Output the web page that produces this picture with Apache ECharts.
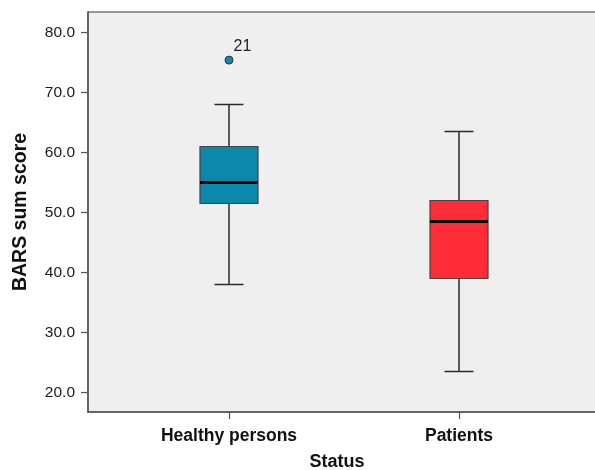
<!DOCTYPE html>
<html><head><meta charset="utf-8">
<script src="https://cdn.jsdelivr.net/npm/echarts@6/dist/echarts.min.js"></script>
<style>html,body{margin:0;padding:0;background:#fff}#c{width:595px;height:470px}</style>
</head><body><div id="c"></div>
<script>
const categories = ['Healthy persons', 'Patients'];
const whiskerLow = [38.0, 23.5];
const q1 = [51.5, 39.0];
const median = [55.0, 48.5];
const q3 = [61.0, 52.0];
const whiskerHigh = [68.0, 63.5];
const outlierCategory = [0];
const outlierValues = [75.4];
const outlierLabels = ['21'];
const yTicks = [20, 30, 40, 50, 60, 70, 80];
const xTicks = [0, 1];

const boxColors = ['#0b88ab', '#fe2c37'];
const FONT = '"Liberation Sans", Arial, sans-serif';

const boxData = categories.map((c, i) => [i, whiskerLow[i], q1[i], median[i], q3[i], whiskerHigh[i]]);
const outlierData = outlierValues.map((v, i) => [outlierCategory[i], v]);

const chart = echarts.init(document.getElementById('c'), null, {renderer: 'canvas'});
chart.setOption({
  animation: false,
  backgroundColor: '#ffffff',
  grid: {left: 88, right: -5, top: 12, bottom: 58, containLabel: false, outerBoundsMode: 'none',
    show: true, backgroundColor: '#efefef', borderColor: '#7a7a7a', borderWidth: 1.5},
  xAxis: {
    type: 'value', min: -0.613, max: 1.613,
    axisLine: {show: true, onZero: false, lineStyle: {color: '#555', width: 1.5}},
    axisTick: {show: true, customValues: xTicks, length: 7, lineStyle: {color: '#555', width: 1.2}},
    axisLabel: {customValues: xTicks, formatter: v => categories[Math.round(v)], margin: 15,
      fontFamily: FONT, fontSize: 17.5, fontWeight: 'bold', color: '#111'},
    splitLine: {show: false},
    name: 'Status', nameLocation: 'middle', nameGap: 41,
    nameTextStyle: {fontFamily: FONT, fontSize: 18, fontWeight: 'bold', color: '#111', padding: [0, 14, 0, 0]}
  },
  yAxis: {
    type: 'value', min: 16.75, max: 83.417,
    axisLine: {show: true, onZero: false, lineStyle: {color: '#555', width: 1.5}},
    axisTick: {show: true, customValues: yTicks, length: 7, lineStyle: {color: '#555', width: 1.2}},
    axisLabel: {customValues: yTicks, formatter: v => v.toFixed(1), margin: 13,
      fontFamily: FONT, fontSize: 15.5, color: '#1a1a1a'},
    splitLine: {show: false},
    name: 'BARS sum score', nameLocation: 'middle', nameGap: 57,
    nameTextStyle: {fontFamily: FONT, fontSize: 19.5, fontWeight: 'bold', color: '#111'}
  },
  series: [
    {
      type: 'custom',
      data: boxData,
      encode: {x: 0, y: [1, 2, 3, 4, 5]},
      renderItem: function (params, api) {
        const x = api.value(0);
        const pLow = api.coord([x, api.value(1)]);
        const pQ1 = api.coord([x, api.value(2)]);
        const pMed = api.coord([x, api.value(3)]);
        const pQ3 = api.coord([x, api.value(4)]);
        const pHigh = api.coord([x, api.value(5)]);
        const cx = pMed[0];
        const hw = 29, cw = 14.5;
        const ls = {stroke: '#2a2a2a', lineWidth: 1.5};
        return {type: 'group', children: [
          {type: 'line', shape: {x1: cx, y1: pHigh[1], x2: cx, y2: pQ3[1]}, style: ls},
          {type: 'line', shape: {x1: cx, y1: pQ1[1], x2: cx, y2: pLow[1]}, style: ls},
          {type: 'line', shape: {x1: cx - cw, y1: pHigh[1], x2: cx + cw, y2: pHigh[1]}, style: ls},
          {type: 'line', shape: {x1: cx - cw, y1: pLow[1], x2: cx + cw, y2: pLow[1]}, style: ls},
          {type: 'rect', shape: {x: cx - hw, y: pQ3[1], width: 2 * hw, height: pQ1[1] - pQ3[1]},
            style: {fill: boxColors[params.dataIndex], stroke: '#444', lineWidth: 1.2}},
          {type: 'line', shape: {x1: cx - hw, y1: pMed[1], x2: cx + hw, y2: pMed[1]}, style: {stroke: '#000', lineWidth: 3}}
        ]};
      }
    },
    {
      type: 'scatter',
      data: outlierData,
      symbol: 'circle', symbolSize: 8,
      itemStyle: {color: boxColors[0], borderColor: '#333', borderWidth: 1, opacity: 1},
      label: {show: true, position: 'right', offset: [-5, -14], formatter: p => outlierLabels[p.dataIndex],
        fontFamily: FONT, fontSize: 16, color: '#222'}
    }
  ]
});
</script>
</body></html>
